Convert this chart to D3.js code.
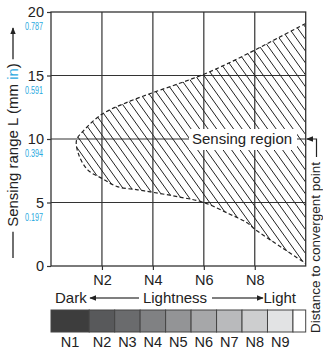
<!DOCTYPE html>
<html><head><meta charset="utf-8">
<script src="https://cdn.jsdelivr.net/npm/d3@7"></script>
<style>
html,body{margin:0;padding:0;background:#fff;}
svg{display:block;font-family:"Liberation Sans",Arial,Helvetica,sans-serif;}
</style></head>
<body><svg id="c" width="323" height="352"></svg>
<script>
// ---- data ----
const xTickValues = [2, 4, 6, 8];
const xTickLabels = ["N2", "N4", "N6", "N8"];
const yTickValues = [0, 5, 10, 15, 20];
const yInchLabels = ["", "0.197", "0.394", "0.591", "0.787"];
// boundary of sensing region (lightness, sensing range mm)
const upperBoundary = [[10,19.1],[9,18.05],[8,17.0],[7,16.0],[6,15.1],[5,14.35],[3.93,13.6],[2.88,12.8],[1.96,11.9],[1.24,10.57],[1.0,9.9]];
const lowerBoundary = [[1.1,8.7],[1.45,7.55],[2,6.9],[2.6,6.25],[3.4,6.0],[4,5.8],[5,5.45],[6,5.0],[7,4.1],[7.7,3.4],[8,2.9],[9.1,1.4],[10,0.2]];
const grayLabels = ["N1","N2","N3","N4","N5","N6","N7","N8","N9"];
const grayLevels = [1,2,3,4,5,6,7,8,9];
const grayColors = ["#3d3d3d","#58595b","#6a6b6d","#808183","#939496","#a6a7a9","#b9babc","#cdcecf","#e2e3e4"];
const regionLabel = "Sensing region";
const sideLabel = "Distance to convergent point";

// ---- chart ----
const svg = d3.select("#c");
const x = d3.scaleLinear().domain([0,10]).range([51,305.7]);
const y = d3.scaleLinear().domain([0,20]).range([266,12]);
const ink = "#333";
const blue = "#2aa9e0";

const defs = svg.append("defs");
defs.append("marker").attr("id","ah").attr("viewBox","0 0 10 10").attr("refX",9).attr("refY",5)
  .attr("markerWidth",7).attr("markerHeight",7).attr("markerUnits","userSpaceOnUse").attr("orient","auto")
  .append("path").attr("d","M0,1L10,5L0,9Z").attr("fill","#222");

// gridlines
svg.append("g").selectAll("line").data(xTickValues).join("line")
  .attr("x1",d=>x(d)).attr("x2",d=>x(d)).attr("y1",y(0)).attr("y2",y(20))
  .attr("stroke",ink).attr("stroke-width",1.2);
svg.append("g").selectAll("line").data(yTickValues.filter(v=>v>0&&v<20)).join("line")
  .attr("x1",x(0)).attr("x2",x(10)).attr("y1",d=>y(d)).attr("y2",d=>y(d))
  .attr("stroke",ink).attr("stroke-width",1.2);

// region
const pts = upperBoundary.concat(lowerBoundary);
const line = d3.line().x(d=>x(d[0])).y(d=>y(d[1])).curve(d3.curveCatmullRom.alpha(0.5));
const openPath = line(pts);
defs.append("clipPath").attr("id","reg").append("path").attr("d", openPath + "Z");
const hatch = svg.append("g").attr("clip-path","url(#reg)");
const slope = 1.4, H = y(0)-y(20);
const hatchStarts = d3.range(x(0) - H/slope, x(10) + 2, 8.5);
hatch.selectAll("line").data(hatchStarts).join("line")
  .attr("x1",d=>d).attr("y1",y(20)).attr("x2",d=>d+H/slope).attr("y2",y(0))
  .attr("stroke","#222").attr("stroke-width",1);
svg.append("path").attr("d",openPath).attr("fill","none").attr("stroke","#222")
  .attr("stroke-width",1.2).attr("stroke-dasharray","4,2.5");

// region label
const lab = svg.append("g");
lab.append("rect").attr("x",189).attr("y",129).attr("width",108).attr("height",21).attr("fill","#fff");
lab.append("text").attr("x",192).attr("y",y(10)).attr("dy","0.35em").attr("font-size",15).attr("fill","#222").text(regionLabel);

// frame
svg.append("rect").attr("x",x(0)).attr("y",y(20)).attr("width",x(10)-x(0)).attr("height",y(0)-y(20))
  .attr("fill","none").attr("stroke",ink).attr("stroke-width",1.3);

// axes
const yAxis = svg.append("g").attr("transform",`translate(${x(0)},0)`)
  .call(d3.axisLeft(y).tickValues(yTickValues).tickSize(4).tickPadding(3).tickSizeOuter(0));
yAxis.select(".domain").remove();
yAxis.selectAll("line").attr("stroke",ink).attr("stroke-width",1.2);
yAxis.selectAll("text").attr("font-size",14.5).attr("fill","#222").attr("font-family",null);
yAxis.selectAll(".tick").append("text")
  .attr("x",-8).attr("y",14).attr("dy","0.35em").attr("text-anchor","end")
  .attr("font-size",11).attr("fill",blue)
  .attr("textLength",(d,i)=>yInchLabels[i]?18:null).attr("lengthAdjust","spacingAndGlyphs")
  .text((d,i)=>yInchLabels[i]);

const xAxis = svg.append("g").attr("transform",`translate(0,${y(0)})`)
  .call(d3.axisBottom(x).tickValues(xTickValues).tickFormat((d,i)=>xTickLabels[i]).tickSize(4).tickPadding(5).tickSizeOuter(0));
xAxis.select(".domain").remove();
xAxis.selectAll("line").attr("stroke",ink).attr("stroke-width",1.2);
xAxis.selectAll("text").attr("font-size",14.5).attr("fill","#222").attr("font-family",null);

// y axis title
const yt = svg.append("text").attr("transform","translate(18,145) rotate(-90)")
  .attr("text-anchor","middle").attr("font-size",15).attr("fill","#222");
yt.append("tspan").text("Sensing range L (mm ");
yt.append("tspan").attr("fill",blue).text("in");
yt.append("tspan").text(")");
const tl = yt.node().getComputedTextLength();
svg.append("line").attr("x1",13).attr("x2",13).attr("y1",258).attr("y2",145+tl/2+5).attr("stroke","#222").attr("stroke-width",1.3);
svg.append("line").attr("x1",13).attr("x2",13).attr("y1",145-tl/2-4).attr("y2",28).attr("stroke","#222").attr("stroke-width",1.3).attr("marker-end","url(#ah)");

// lightness legend
const ly = 298;
svg.append("text").attr("x",55).attr("y",ly).attr("dy","0.35em").attr("font-size",15).attr("fill","#222").text("Dark");
svg.append("text").attr("x",175).attr("y",ly).attr("dy","0.35em").attr("text-anchor","middle").attr("font-size",15).attr("fill","#222").text("Lightness");
svg.append("text").attr("x",296).attr("y",ly).attr("dy","0.35em").attr("text-anchor","end").attr("font-size",15).attr("fill","#222").text("Light");
svg.append("line").attr("x1",139).attr("x2",90).attr("y1",ly).attr("y2",ly).attr("stroke","#555").attr("stroke-width",1.5).attr("marker-end","url(#ah)");
svg.append("line").attr("x1",212).attr("x2",263).attr("y1",ly).attr("y2",ly).attr("stroke","#555").attr("stroke-width",1.5).attr("marker-end","url(#ah)");

// gray scale bar
const lo = k => k===1 ? 0 : k-0.5;
const hi = k => k+0.5;
const barY = 310, barH = 22;
svg.append("g").selectAll("rect").data(grayLevels).join("rect")
  .attr("x",d=>x(lo(d))).attr("width",d=>x(hi(d))-x(lo(d))).attr("y",barY).attr("height",barH)
  .attr("fill",(d,i)=>grayColors[i]).attr("stroke","#444").attr("stroke-width",1);
svg.append("rect").attr("x",x(9.5)).attr("width",x(10)-x(9.5)).attr("y",barY).attr("height",barH)
  .attr("fill","#fff").attr("stroke","#444").attr("stroke-width",1);
svg.append("g").selectAll("text").data(grayLevels).join("text")
  .attr("x",d=>x((lo(d)+hi(d))/2)).attr("y",342).attr("dy","0.35em").attr("text-anchor","middle")
  .attr("font-size",14.5).attr("fill","#222").text((d,i)=>grayLabels[i]);

// distance to convergent point
svg.append("text").attr("transform","translate(320,333) rotate(-90)").attr("font-size",13.5).attr("fill","#222").text(sideLabel);
svg.append("path").attr("d",`M316.5,157V${y(10)}H${x(10)+1}`).attr("fill","none").attr("stroke","#222").attr("stroke-width",1.2).attr("marker-end","url(#ah)");
</script></body></html>
